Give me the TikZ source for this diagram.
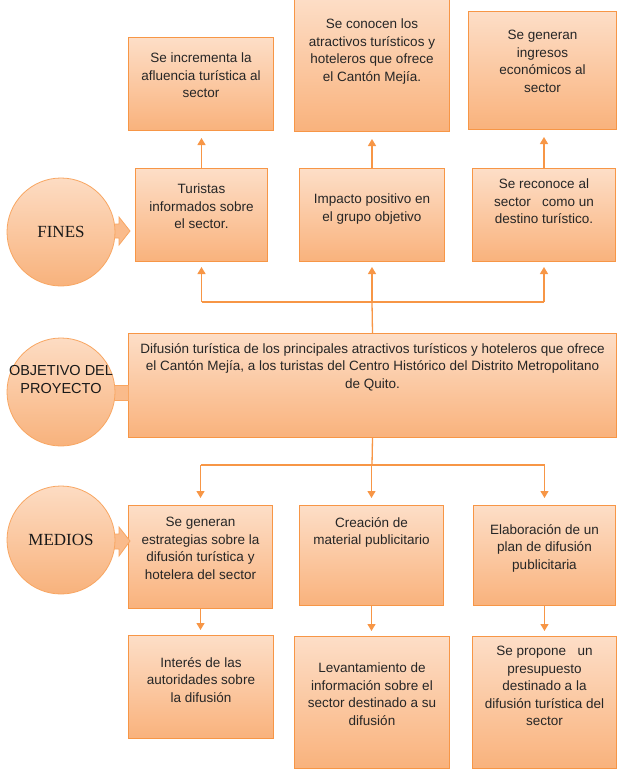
\documentclass[tikz,border=0pt]{standalone}
\usepackage{fontspec}
\setmainfont{Liberation Sans}
\newfontfamily\serifx{Liberation Serif}
\usetikzlibrary{arrows.meta}
\definecolor{boxline}{RGB}{247,150,70}
\definecolor{boxtop}{RGB}{253,222,199}
\definecolor{boxbot}{RGB}{249,178,124}
\definecolor{cirtop}{RGB}{253,220,195}
\definecolor{cirbot}{RGB}{248,178,124}
\tikzset{
  box/.style={draw=boxline, line width=1pt, top color=boxtop, bottom color=boxbot, anchor=north west, inner sep=0pt, rectangle},
  circ/.style={circle, draw=boxline!85, line width=0.8pt, top color=cirtop, bottom color=cirbot, minimum size=108pt, inner sep=0pt},
  txt/.style={font=\fontsize{13.5}{17.5}\selectfont, align=center, anchor=north, yshift=10pt, inner sep=0pt, text=black!85, execute at begin node=\strut},
  conn/.style={draw=boxline, line width=1.3pt},
  arr/.style={conn, -{Triangle[length=7pt,width=8pt]}},
  blockarrow/.style={draw=boxline!85, line width=0.8pt, fill=boxbot!80!boxtop}
}
\begin{document}
\begin{tikzpicture}[x=1pt,y=-1pt]
\useasboundingbox (0,0) rectangle (624,782);
% ---------- top row (results of fines)
\node[box, minimum width=145pt, minimum height=93pt] (a1) at (128,37) {};
\node[box, minimum width=155pt, minimum height=134pt] (a2) at (294,-3) {};
\node[box, minimum width=148pt, minimum height=118pt] (a3) at (468,11) {};
\node[txt] (a1t) at (a1.north |- 0,63) {Se incrementa la\\afluencia turística al\\sector};
\node[txt] (a2t) at (a2.north |- 0,29) {Se conocen los\\atractivos turísticos y\\hoteleros que ofrece\\el Cantón Mejía.};
\node[txt] (a3t) at (a3.north |- 0,40) {Se generan\\ingresos\\económicos al\\sector};
% ---------- fines row
\node[box, minimum width=132pt, minimum height=93pt] (b1) at (135,168) {};
\node[box, minimum width=145pt, minimum height=93pt] (b2) at (299,168) {};
\node[box, minimum width=143pt, minimum height=93pt] (b3) at (472,168) {};
\node[txt] (b1t) at (b1.north |- 0,194) {Turistas\\informados sobre\\el sector.};
\node[txt] (b2t) at (b2.north |- 0,204) {Impacto positivo en\\el grupo objetivo};
\node[txt] (b3t) at (b3.north |- 0,189) {Se reconoce al\\sector\ \ \ como un\\destino turístico.};
% FINES circle and block arrow
\path[blockarrow] (112,224) -- (119,224) -- (119,217) -- (130,231) -- (119,245) -- (119,238) -- (112,238) -- cycle;
\node[circ] (fines) at (61,232) {};
\node[font=\serifx\fontsize{17}{20}\selectfont, text=black!90] (finest) at (fines.center) {FINES};
% ---------- objective
\node[box, minimum width=488pt, minimum height=104pt] (obj) at (128,333) {};
\node[txt] (objt) at (obj.north |- 0,353) {Difusión turística de los principales atractivos turísticos y hoteleros que ofrece\\el Cantón Mejía, a los turistas del Centro Histórico del Distrito Metropolitano\\de Quito.};
\path[blockarrow] (112,385) rectangle (128,400);
\node[circ] (objc) at (61,392) {};
\node[font=\fontsize{14.5}{18}\selectfont, align=center, text=black!90, inner sep=0pt] (objct) at (61,380) {OBJETIVO DEL\\PROYECTO};
% ---------- medios row
\node[box, minimum width=144pt, minimum height=103pt] (c1) at (128,505) {};
\node[box, minimum width=144pt, minimum height=100pt] (c2) at (299,505) {};
\node[box, minimum width=142pt, minimum height=100pt] (c3) at (473,505) {};
\node[txt] (c1t) at (c1.north |- 0,527) {Se generan\\estrategias sobre la\\difusión turística y\\hotelera del sector};
\node[txt] (c2t) at (c2.north |- 0,527) {Creación de\\material publicitario};
\node[txt] (c3t) at (c3.north |- 0,534) {Elaboración de un\\plan de difusión\\publicitaria};
\path[blockarrow] (112,534) -- (119,534) -- (119,527) -- (130,541) -- (119,556) -- (119,549) -- (112,549) -- cycle;
\node[circ] (medios) at (61,540) {};
\node[font=\serifx\fontsize{17}{20}\selectfont, text=black!90] (mediost) at (medios.center) {MEDIOS};
% ---------- bottom row
\node[box, minimum width=145pt, minimum height=103pt] (d1) at (128,635) {};
\node[box, minimum width=155pt, minimum height=132pt] (d2) at (294,636) {};
\node[box, minimum width=144pt, minimum height=132pt] (d3) at (472,636) {};
\node[txt] (d1t) at (d1.north |- 0,667) {Interés de las\\autoridades sobre\\la difusión};
\node[txt] (d2t) at (d2.north |- 0,673) {Levantamiento de\\información sobre el\\sector destinado a su\\difusión};
\node[txt] (d3t) at (d3.north |- 0,656) {Se propone\ \ \ un\\presupuesto\\destinado a la\\difusión turística del\\sector};
% ---------- connectors
\coordinate (busT) at (372,302);
\coordinate (busB) at (372,465);
\draw[arr, shorten >=7pt] (b1.north) -- (b1.north |- a1.south);
\draw[arr, shorten >=7pt] (b2.north) -- (b2.north |- a2.south);
\draw[arr, shorten >=7pt] (b3.north) -- (b3.north |- a3.south);
\draw[conn] (obj.north) -- (busT);
\draw[conn] (b1.south |- busT) -- (b3.south |- busT);
\draw[arr, shorten >=5pt] (b1.south |- busT) -- (b1.south);
\draw[arr, shorten >=5pt] (b2.south |- busT) -- (b2.south);
\draw[arr, shorten >=5pt] (b3.south |- busT) -- (b3.south);
\draw[conn] (obj.south) -- (busB);
\draw[conn] (c1.north |- busB) -- (c3.north |- busB);
\draw[arr, shorten >=7pt] (c1.north |- busB) -- (c1.north);
\draw[arr, shorten >=7pt] (c2.north |- busB) -- (c2.north);
\draw[arr, shorten >=7pt] (c3.north |- busB) -- (c3.north);
\draw[arr, shorten >=5pt] (c1.south) -- (c1.south |- d1.north);
\draw[arr, shorten >=5pt] (c2.south) -- (c2.south |- d2.north);
\draw[arr, shorten >=5pt] (c3.south) -- (c3.south |- d3.north);
\end{tikzpicture}
\end{document}
